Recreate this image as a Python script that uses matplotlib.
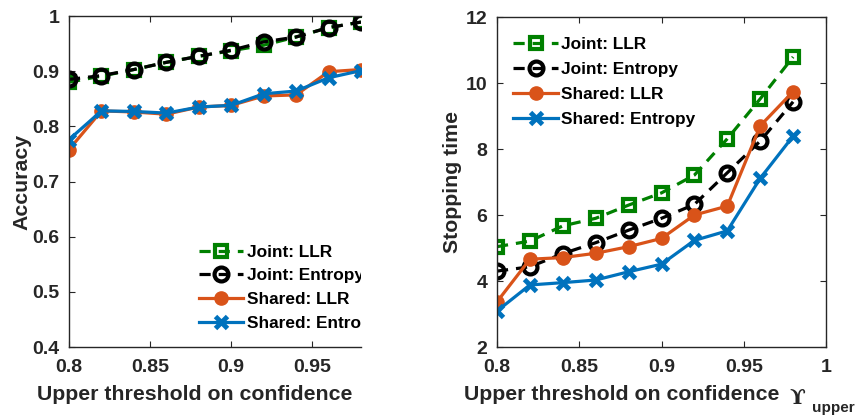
import matplotlib
matplotlib.use("Agg")
import matplotlib.pyplot as plt

plt.rcParams['font.family'] = ['Liberation Sans', 'DejaVu Sans']
plt.rcParams['font.weight'] = 'bold'

# thresholds
x = [0.80, 0.82, 0.84, 0.86, 0.88, 0.90, 0.92, 0.94, 0.96, 0.98]

# accuracy
acc_joint_llr = [0.880, 0.891, 0.903, 0.916, 0.927, 0.937, 0.947, 0.962, 0.979, 0.989]
acc_joint_ent = [0.885, 0.892, 0.903, 0.916, 0.927, 0.938, 0.953, 0.962, 0.979, 0.989]
acc_shared_llr = [0.758, 0.828, 0.826, 0.822, 0.835, 0.838, 0.855, 0.857, 0.899, 0.903]
acc_shared_ent = [0.776, 0.828, 0.827, 0.824, 0.835, 0.838, 0.859, 0.864, 0.888, 0.901]

# stopping time
st_joint_llr = [5.04, 5.21, 5.67, 5.90, 6.30, 6.67, 7.21, 8.31, 9.52, 10.79]
st_joint_ent = [4.30, 4.43, 4.83, 5.16, 5.54, 5.90, 6.32, 7.28, 8.24, 9.43]
st_shared_llr = [3.37, 4.66, 4.71, 4.84, 5.04, 5.29, 6.00, 6.27, 8.70, 9.74]
st_shared_ent = [3.09, 3.88, 3.95, 4.03, 4.28, 4.51, 5.23, 5.52, 7.11, 8.39]

labels = ["Joint: LLR", "Joint: Entropy", "Shared: LLR", "Shared: Entropy"]

green = "#008000"
black = "#000000"
orange = "#D95319"
blue = "#0072BD"
axcol = "#262626"

fig = plt.figure(figsize=(8.59, 4.16), dpi=100)
ax1 = fig.add_axes([69/859, 1-347/416, 292/859, 331/416])
ax2 = fig.add_axes([497/859, 1-347/416, 329/859, 330/416])


def draw(ax, ys):
    ax.plot(x, ys[0], color=green, ls=(0, (3.5, 2.5)), lw=2.3, marker='s', ms=8.5,
            mfc='none', mew=3, label=labels[0])
    ax.plot(x, ys[1], color=black, ls=(0, (3.5, 2.5)), lw=2.3, marker='o', ms=10,
            mfc='none', mew=3, label=labels[1])
    ax.plot(x, ys[2], color=orange, lw=2.3, marker='o', ms=9.5, mfc=orange,
            mew=1, label=labels[2])
    ax.plot(x, ys[3], color=blue, lw=2.3, marker='x', ms=8.5, mew=3.5,
            label=labels[3])
    for s in ax.spines.values():
        s.set_color(axcol)
        s.set_linewidth(1)
    ax.tick_params(direction='in', length=4, colors=axcol, labelsize=14,
                   top=True, right=True)
    ax.tick_params(axis='x', pad=9)
    ax.tick_params(axis='y', pad=7)
    for t in ax.get_xticklabels() + ax.get_yticklabels():
        t.set_fontweight('bold')


draw(ax1, [acc_joint_llr, acc_joint_ent, acc_shared_llr, acc_shared_ent])
ax1.set_xlim(0.8, 0.98)
ax1.set_ylim(0.4, 1.0)
ax1.set_xticks([0.8, 0.85, 0.9, 0.95])
ax1.set_xticklabels(["0.8", "0.85", "0.9", "0.95"])
ax1.set_yticks([0.4, 0.5, 0.6, 0.7, 0.8, 0.9, 1.0])
ax1.set_yticklabels(["0.4", "0.5", "0.6", "0.7", "0.8", "0.9", "1"])
ax1.spines['right'].set_visible(False)
ax1.tick_params(right=False)
ax1.set_xlabel("Upper threshold on confidence", fontsize=15.3, fontweight='bold', color=axcol)
ax1.xaxis.set_label_coords(0.43, -0.115)
ax1.set_ylabel("Accuracy", fontsize=15.3, fontweight='bold', color=axcol)
ax1.yaxis.set_label_coords(-0.130, 0.5)
leg1 = ax1.legend(loc='upper left', bbox_to_anchor=(0.444, 0.309), frameon=False,
                  fontsize=12.4, handlelength=2.6, handletextpad=0.2,
                  labelspacing=0.5, borderaxespad=0, borderpad=0)
for t in leg1.get_texts():
    t.set_fontweight('bold')
    t.set_clip_box(ax1.bbox)
    t.set_clip_on(True)

draw(ax2, [st_joint_llr, st_joint_ent, st_shared_llr, st_shared_ent])
ax2.set_xlim(0.8, 1.0)
ax2.set_ylim(2, 12)
ax2.set_xticks([0.8, 0.85, 0.9, 0.95, 1.0])
ax2.set_xticklabels(["0.8", "0.85", "0.9", "0.95", "1"])
ax2.set_yticks([2, 4, 6, 8, 10, 12])
ax2.set_xlabel("Upper threshold on confidence", fontsize=15.3, fontweight='bold', color=axcol)
ax2.xaxis.set_label_coords(0.378, -0.115)
ax2.set_ylabel("Stopping time", fontsize=15.3, fontweight='bold', color=axcol)
ax2.yaxis.set_label_coords(-0.106, 0.5)
# upsilon symbol with subscript
fig.text(797/859, 1-404/416, "ϒ", family='DejaVu Serif', fontsize=15,
         color=axcol, ha='center', va='baseline', fontweight='bold')
fig.text(812/859, 1-412/416, "upper", fontsize=11, fontweight='bold',
         color=axcol, ha='left', va='baseline')
leg2 = ax2.legend(loc='upper left', bbox_to_anchor=(0.049, 0.939), frameon=False,
                  fontsize=12.4, handlelength=2.6, handletextpad=0.2,
                  labelspacing=0.58, borderaxespad=0, borderpad=0)
for t in leg2.get_texts():
    t.set_fontweight('bold')

fig.savefig("out.png", dpi=100)
